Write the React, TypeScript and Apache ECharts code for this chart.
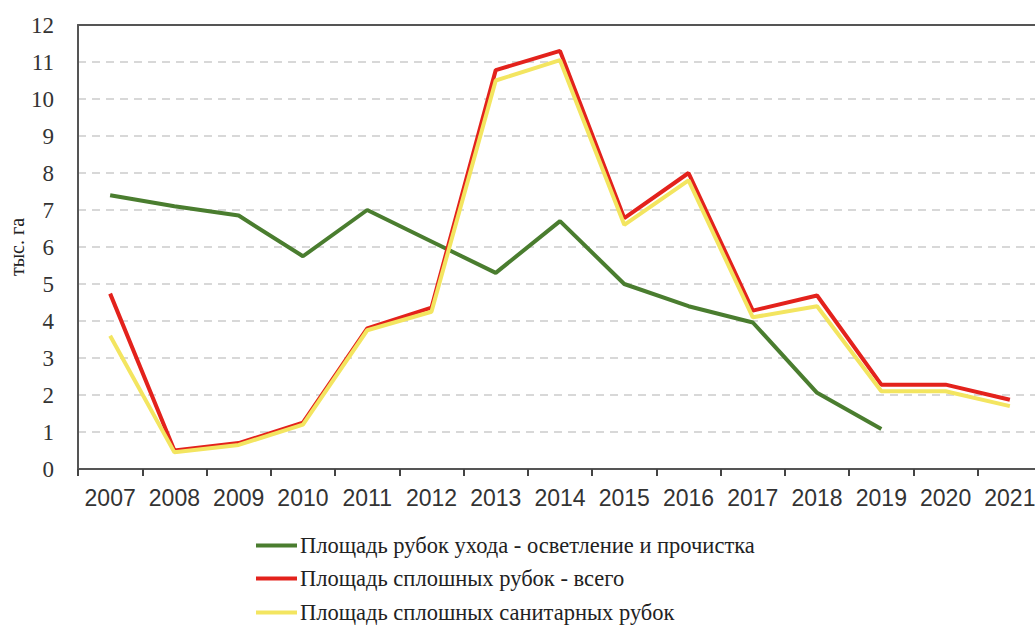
import React, { useEffect, useRef } from "react";
import * as echarts from "echarts";

const years = ["2007","2008","2009","2010","2011","2012","2013","2014","2015","2016","2017","2018","2019","2020","2021"];
const thinning = [7.4, 7.1, 6.85, 5.75, 7.0, 6.15, 5.3, 6.7, 5.0, 4.4, 3.96, 2.06, 1.08, null, null];
const clearTotal = [4.74, 0.5, 0.7, 1.25, 3.8, 4.36, 10.78, 11.3, 6.78, 8.0, 4.28, 4.69, 2.28, 2.28, 1.87];
const clearSanitary = [3.6, 0.45, 0.65, 1.2, 3.75, 4.25, 10.5, 11.05, 6.6, 7.8, 4.1, 4.4, 2.1, 2.1, 1.7];
const seriesNames = [
  "Площадь рубок ухода - осветление и прочистка",
  "Площадь сплошных рубок - всего",
  "Площадь сплошных санитарных рубок",
];
const seriesColors = ["#4a7d2f", "#e3221c", "#f3e560"];
const yTicks = { min: 0, max: 12, interval: 1 };

export default function App() {
  const ref = useRef<HTMLDivElement>(null);
  useEffect(() => {
    if (!ref.current) return;
    const chart = echarts.init(ref.current, null, { renderer: "svg" });
    const serif = "'Liberation Serif', 'Times New Roman', serif";
    const legendTops = [534, 567, 601];
    chart.setOption({
      animation: false,
      backgroundColor: "#ffffff",
      grid: {
        left: 78,
        top: 25,
        bottom: 159,
        width: 964,
        show: false,
        containLabel: false,
        outerBoundsMode: "none",
      },
      legend: seriesNames.map((n, i) => ({
        orient: "horizontal",
        left: 256,
        top: legendTops[i],
        padding: 0,
        itemWidth: 41,
        itemHeight: 4,
        itemGap: 3,
        icon: "rect",
        textStyle: { fontFamily: serif, fontSize: 22.5, color: "#222", padding: [0, 0, 0, -2] },
        data: [n],
      })),
      xAxis: [
        {
          type: "category",
          data: years,
          boundaryGap: true,
          axisLine: { lineStyle: { color: "#555", width: 2 } },
          axisTick: { show: true, length: 7, lineStyle: { color: "#444", width: 2 } },
          axisLabel: { fontFamily: "'Liberation Sans', Arial, sans-serif", fontSize: 23, color: "#333", margin: 17, interval: 0 },
          splitLine: { show: false },
        },
        {
          type: "category",
          data: years,
          position: "top",
          axisLine: { show: true, lineStyle: { color: "#555", width: 2 } },
          axisTick: { show: false },
          axisLabel: { show: false },
          splitLine: { show: false },
        },
      ],
      yAxis: {
        type: "value",
        min: yTicks.min,
        max: yTicks.max,
        interval: yTicks.interval,
        name: "тыс. га",
        nameLocation: "middle",
        nameRotate: 90,
        nameGap: 51,
        nameMoveOverlap: false,
        nameTextStyle: { fontFamily: serif, fontSize: 20, color: "#222" },
        axisLine: { show: true, lineStyle: { color: "#555", width: 2 } },
        axisTick: { show: false },
        axisLabel: { fontFamily: serif, fontSize: 23, color: "#333", margin: 24 },
        splitLine: { show: true, lineStyle: { color: "#cccccc", width: 1.5, type: [8, 6] } },
      },
      series: [thinning, clearTotal, clearSanitary].map((d, i) => ({
        name: seriesNames[i],
        type: "line",
        data: d,
        showSymbol: false,
        symbol: "none",
        itemStyle: { color: seriesColors[i] },
        lineStyle: { color: seriesColors[i], width: 4 },
      })),
    });
    return () => chart.dispose();
  }, []);
  return <div ref={ref} style={{ width: 1035, height: 628, position: "absolute", left: 0, top: 0 }} />;
}
